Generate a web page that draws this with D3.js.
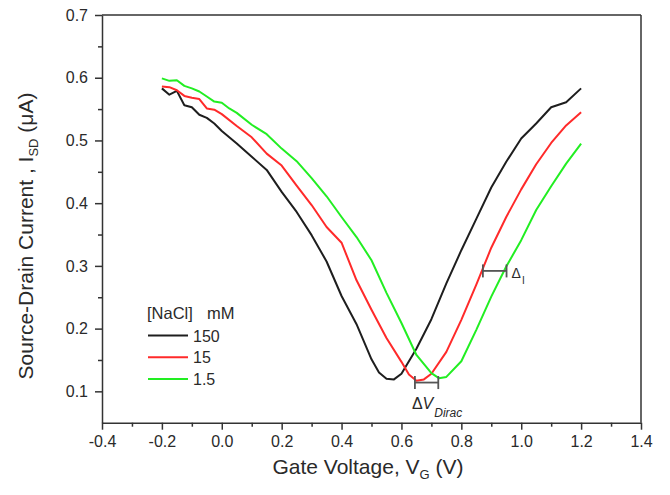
<!DOCTYPE html>
<html>
<head>
<meta charset="utf-8">
<script src="https://cdn.jsdelivr.net/npm/d3@7"></script>
<style>
  html, body { margin: 0; padding: 0; background: #fff; }
  svg { display: block; font-family: "Liberation Sans", Arial, sans-serif; }
</style>
</head>
<body>
<svg id="chart" width="670" height="495"></svg>
<script>
// ---- Data ----
const seriesNames = ["150", "15", "1.5"];
const legendTitle = ["[NaCl]", "mM"];

const blackV = [-0.2, -0.175, -0.15, -0.125, -0.1, -0.075, -0.05, -0.025, 0, 0.05, 0.1, 0.15, 0.2, 0.25, 0.3, 0.35, 0.4, 0.45, 0.5, 0.525, 0.55, 0.575, 0.6, 0.65, 0.7, 0.75, 0.8, 0.85, 0.9, 0.95, 1.0, 1.05, 1.1, 1.15, 1.2];
const blackI = [0.583, 0.573, 0.579, 0.556, 0.553, 0.541, 0.536, 0.527, 0.515, 0.495, 0.474, 0.453, 0.418, 0.386, 0.349, 0.307, 0.252, 0.207, 0.151, 0.130, 0.120, 0.119, 0.128, 0.168, 0.215, 0.272, 0.325, 0.375, 0.425, 0.466, 0.503, 0.527, 0.553, 0.561, 0.583];

const redV = [-0.2, -0.175, -0.15, -0.125, -0.1, -0.075, -0.05, -0.025, 0, 0.05, 0.1, 0.15, 0.2, 0.25, 0.3, 0.35, 0.4, 0.45, 0.5, 0.55, 0.6, 0.625, 0.65, 0.675, 0.7, 0.75, 0.8, 0.85, 0.9, 0.95, 1.0, 1.05, 1.1, 1.15, 1.2];
const redI = [0.586, 0.585, 0.580, 0.571, 0.568, 0.566, 0.551, 0.549, 0.542, 0.523, 0.505, 0.479, 0.460, 0.428, 0.397, 0.362, 0.337, 0.277, 0.230, 0.185, 0.147, 0.127, 0.117, 0.119, 0.128, 0.163, 0.214, 0.270, 0.329, 0.378, 0.422, 0.462, 0.496, 0.524, 0.545];

const greenV = [-0.2, -0.175, -0.15, -0.125, -0.1, -0.075, -0.05, -0.025, 0, 0.025, 0.05, 0.1, 0.15, 0.2, 0.25, 0.3, 0.35, 0.4, 0.45, 0.5, 0.55, 0.6, 0.65, 0.7, 0.725, 0.75, 0.8, 0.85, 0.9, 0.95, 1.0, 1.05, 1.1, 1.15, 1.2];
const greenI = [0.599, 0.595, 0.596, 0.587, 0.583, 0.578, 0.570, 0.562, 0.560, 0.551, 0.544, 0.525, 0.510, 0.487, 0.467, 0.440, 0.411, 0.378, 0.346, 0.309, 0.257, 0.209, 0.158, 0.129, 0.121, 0.123, 0.148, 0.198, 0.251, 0.299, 0.341, 0.389, 0.427, 0.463, 0.495];

const xTicks = [-0.4, -0.2, 0.0, 0.2, 0.4, 0.6, 0.8, 1.0, 1.2, 1.4];
const xMinorTicks = [-0.3, -0.1, 0.1, 0.3, 0.5, 0.7, 0.9, 1.1, 1.3];
const yTicks = [0.1, 0.2, 0.3, 0.4, 0.5, 0.6, 0.7];
const yMinorTicks = [0.15, 0.25, 0.35, 0.45, 0.55, 0.65];

// annotation brackets: [V start, V end, I level]
const dVDirac = [0.645, 0.723, 0.114];
const dI = [0.872, 0.951, 0.292];

const colors = ["#1e1e1e", "#ff2a2a", "#22ee22"];
const series = [
  { name: seriesNames[0], V: blackV, I: blackI, color: colors[0] },
  { name: seriesNames[1], V: redV, I: redI, color: colors[1] },
  { name: seriesNames[2], V: greenV, I: greenI, color: colors[2] }
];

// ---- Layout ----
const svg = d3.select("#chart");
const L = 102, R = 641, T = 15, B = 422.7;
const x = d3.scaleLinear().domain([-0.4, 1.4]).range([L, R]);
const y = d3.scaleLinear().domain([0.05, 0.7]).range([B, T]);
const axisColor = "#333";
const textColor = "#2a2a2a";
const fontSize = 16;

// frame (top & right)
svg.append("line").attr("x1", L).attr("x2", R).attr("y1", T).attr("y2", T)
  .attr("stroke", axisColor).attr("stroke-width", 1.5);
svg.append("line").attr("x1", R).attr("x2", R).attr("y1", T).attr("y2", B)
  .attr("stroke", axisColor).attr("stroke-width", 1.5);

// x axis
svg.append("g").attr("transform", `translate(0,${B})`)
  .call(d3.axisBottom(x).tickValues(xTicks).tickSize(7).tickSizeOuter(0).tickPadding(6)
    .tickFormat(d => d.toFixed(1)));
svg.append("g").attr("transform", `translate(0,${B})`)
  .call(d3.axisBottom(x).tickValues(xMinorTicks).tickSize(4).tickSizeOuter(0).tickFormat(""))
  .call(g => g.select(".domain").remove());

// y axis
svg.append("g").attr("transform", `translate(${L},0)`)
  .call(d3.axisLeft(y).tickValues(yTicks).tickSize(7).tickSizeOuter(0).tickPadding(7)
    .tickFormat(d => d.toFixed(1)));
svg.append("g").attr("transform", `translate(${L},0)`)
  .call(d3.axisLeft(y).tickValues(yMinorTicks).tickSize(4).tickSizeOuter(0).tickFormat(""))
  .call(g => g.select(".domain").remove());

svg.selectAll(".domain, .tick line").attr("stroke", axisColor).attr("stroke-width", 1.5);
svg.selectAll(".tick text").attr("fill", textColor)
  .style("font-size", fontSize + "px").style("font-family", '"Liberation Sans", Arial, sans-serif');

// axis titles
const xt = svg.append("text").attr("x", 368).attr("y", 474)
  .attr("text-anchor", "middle").attr("fill", textColor).style("font-size", "21px");
xt.append("tspan").text("Gate Voltage, V");
xt.append("tspan").attr("dy", 5).style("font-size", "13px").text("G");
xt.append("tspan").attr("dy", -5).text(" (V)");

const yt = svg.append("text").attr("transform", `translate(33,236) rotate(-90)`)
  .attr("text-anchor", "middle").attr("fill", textColor).style("font-size", "21px");
yt.append("tspan").text("Source-Drain Current , I");
yt.append("tspan").attr("dy", 5).style("font-size", "13px").text("SD");
yt.append("tspan").attr("dy", -5).text(" (\u03bcA)");

// series lines
const line = d3.line().x(d => x(d[0])).y(d => y(d[1]));
series.forEach(s => {
  const pts = s.V.map((v, i) => [v, s.I[i]]);
  svg.append("path").datum(pts).attr("d", line)
    .attr("fill", "none").attr("stroke", s.color).attr("stroke-width", 2)
    .attr("stroke-linejoin", "round");
});

// brackets
function bracket(b) {
  const g = svg.append("g").attr("stroke", "#555").attr("stroke-width", 1.8);
  const x1 = x(b[0]), x2 = x(b[1]), yy = y(b[2]);
  g.append("line").attr("x1", x1).attr("x2", x2).attr("y1", yy).attr("y2", yy);
  g.append("line").attr("x1", x1).attr("x2", x1).attr("y1", yy - 6.5).attr("y2", yy + 6.5);
  g.append("line").attr("x1", x2).attr("x2", x2).attr("y1", yy - 6.5).attr("y2", yy + 6.5);
}
bracket(dVDirac);
bracket(dI);

const tdv = svg.append("text").attr("x", x(dVDirac[0]) - 3).attr("y", y(dVDirac[2]) + 26)
  .attr("fill", textColor).style("font-size", "16px");
tdv.append("tspan").text("\u0394");
tdv.append("tspan").style("font-style", "italic").text("V");
tdv.append("tspan").attr("dy", 8).attr("dx", 1).style("font-size", "12px").style("font-style", "italic").text("Dirac");

const tdi = svg.append("text").attr("x", x(dI[1]) + 5).attr("y", y(dI[2]) + 7)
  .attr("fill", textColor).style("font-size", "14px");
tdi.append("tspan").text("\u0394");
tdi.append("tspan").attr("dy", 6).attr("dx", 1).style("font-size", "10px").text("I");

// legend
const lg = svg.append("g");
lg.append("text").attr("x", 147).attr("y", 319).attr("fill", textColor)
  .style("font-size", "16.5px").text(legendTitle[0]);
lg.append("text").attr("x", 207).attr("y", 319).attr("fill", textColor)
  .style("font-size", "16.5px").text(legendTitle[1]);
series.forEach((s, i) => {
  const yy = 335.5 + i * 21.8;
  lg.append("line").attr("x1", 148).attr("x2", 188).attr("y1", yy).attr("y2", yy)
    .attr("stroke", s.color).attr("stroke-width", 2);
  lg.append("text").attr("x", 193).attr("y", yy + 6).attr("fill", textColor)
    .style("font-size", fontSize + "px").text(s.name);
});
</script>
</body>
</html>
